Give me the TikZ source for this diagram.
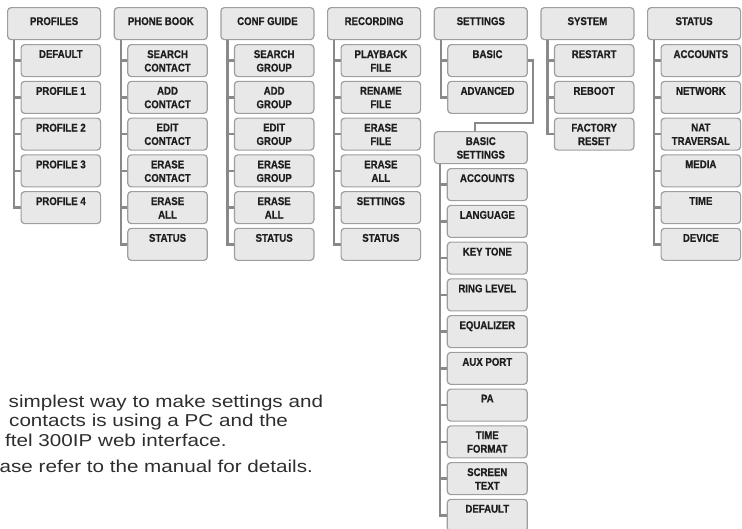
\documentclass[tikz,border=0pt]{standalone}
\usepackage{fontspec}
\setmainfont{Liberation Sans}
\newfontfamily\lblfont{Liberation Sans Bold}[FakeStretch=0.86,FakeBold=0.7]
\newfontfamily\bodyfont{Liberation Sans}[FakeStretch=1.2]
\usetikzlibrary{backgrounds}
\definecolor{connc}{HTML}{898989}
\definecolor{boxline}{HTML}{9E9E9E}
\definecolor{boxfill}{HTML}{E8E8E8}
\definecolor{lblc}{HTML}{1E1E1E}
\definecolor{bodyc}{HTML}{2E2E2E}
\newcommand\mbx[6]{%
  \node[boxst, minimum width=#4pt] (#1) at (#2,#3) {};
  \node[lblst] (#1l) at ([yshift=-#6pt]#1.north) {#5};}
\begin{document}
\begin{tikzpicture}[x=1pt,y=-1pt,
  boxst/.style={draw=boxline, fill=boxfill, line width=1.2pt, rounded corners=3.5pt,
    inner sep=0pt, minimum height=32pt, anchor=north west},
  lblst/.style={font={\lblfont\fontsize{11.2}{13.5}\selectfont}, text=lblc,
    align=center, inner sep=0pt, anchor=north},
  conn/.style={draw=connc, line width=2.4pt},
  bodyst/.style={font={\bodyfont\fontsize{17.2}{20}\selectfont}, text=bodyc,
    inner sep=0pt, anchor=base west}]
\useasboundingbox (0,0) rectangle (742,528);
\clip (0,0) rectangle (742,528);

% ---- PROFILES
\mbx{P}{7}{7}{93}{PROFILES}{10}
\mbx{P1}{20.5}{44}{79.5}{DEFAULT}{6}
\mbx{P2}{20.5}{80.75}{79.5}{PROFILE 1}{6}
\mbx{P3}{20.5}{117.5}{79.5}{PROFILE 2}{6}
\mbx{P4}{20.5}{154.25}{79.5}{PROFILE 3}{6}
\mbx{P5}{20.5}{191}{79.5}{PROFILE 4}{6}
% ---- PHONE BOOK
\mbx{B}{113.7}{7}{93}{PHONE BOOK}{10}
\mbx{B1}{127.2}{44}{79.5}{SEARCH\\CONTACT}{6}
\mbx{B2}{127.2}{80.75}{79.5}{ADD\\CONTACT}{6}
\mbx{B3}{127.2}{117.5}{79.5}{EDIT\\CONTACT}{6}
\mbx{B4}{127.2}{154.25}{79.5}{ERASE\\CONTACT}{6}
\mbx{B5}{127.2}{191}{79.5}{ERASE\\ALL}{6}
\mbx{B6}{127.2}{227.75}{79.5}{STATUS}{6}
% ---- CONF GUIDE
\mbx{C}{220.3}{7}{93}{CONF GUIDE}{10}
\mbx{C1}{233.8}{44}{79.5}{SEARCH\\GROUP}{6}
\mbx{C2}{233.8}{80.75}{79.5}{ADD\\GROUP}{6}
\mbx{C3}{233.8}{117.5}{79.5}{EDIT\\GROUP}{6}
\mbx{C4}{233.8}{154.25}{79.5}{ERASE\\GROUP}{6}
\mbx{C5}{233.8}{191}{79.5}{ERASE\\ALL}{6}
\mbx{C6}{233.8}{227.75}{79.5}{STATUS}{6}
% ---- RECORDING
\mbx{R}{327}{7}{93}{RECORDING}{10}
\mbx{R1}{340.5}{44}{79.5}{PLAYBACK\\FILE}{6}
\mbx{R2}{340.5}{80.75}{79.5}{RENAME\\FILE}{6}
\mbx{R3}{340.5}{117.5}{79.5}{ERASE\\FILE}{6}
\mbx{R4}{340.5}{154.25}{79.5}{ERASE\\ALL}{6}
\mbx{R5}{340.5}{191}{79.5}{SETTINGS}{6}
\mbx{R6}{340.5}{227.75}{79.5}{STATUS}{6}
% ---- SETTINGS
\mbx{S}{433.7}{7}{93}{SETTINGS}{10}
\mbx{S1}{447.2}{44}{79.5}{BASIC}{6}
\mbx{S2}{447.2}{80.75}{79.5}{ADVANCED}{6}
% ---- BASIC SETTINGS
\mbx{BS}{433.7}{131}{93}{BASIC\\SETTINGS}{6}
\mbx{BS1}{446.7}{168}{80}{ACCOUNTS}{6}
\mbx{BS2}{446.7}{204.75}{80}{LANGUAGE}{6}
\mbx{BS3}{446.7}{241.5}{80}{KEY TONE}{6}
\mbx{BS4}{446.7}{278.25}{80}{RING LEVEL}{6}
\mbx{BS5}{446.7}{315}{80}{EQUALIZER}{6}
\mbx{BS6}{446.7}{351.75}{80}{AUX PORT}{6}
\mbx{BS7}{446.7}{388.5}{80}{PA}{6}
\mbx{BS8}{446.7}{425.25}{80}{TIME\\FORMAT}{6}
\mbx{BS9}{446.7}{462}{80}{SCREEN\\TEXT}{6}
\mbx{BS10}{446.7}{498.75}{80}{DEFAULT}{6}
% ---- SYSTEM
\mbx{Y}{540.3}{7}{93}{SYSTEM}{10}
\mbx{Y1}{553.8}{44}{79.5}{RESTART}{6}
\mbx{Y2}{553.8}{80.75}{79.5}{REBOOT}{6}
\mbx{Y3}{553.8}{117.5}{79.5}{FACTORY\\RESET}{6}
% ---- STATUS
\mbx{T}{647}{7}{93}{STATUS}{10}
\mbx{T1}{660.5}{44}{79.5}{ACCOUNTS}{6}
\mbx{T2}{660.5}{80.75}{79.5}{NETWORK}{6}
\mbx{T3}{660.5}{117.5}{79.5}{NAT\\TRAVERSAL}{6}
\mbx{T4}{660.5}{154.25}{79.5}{MEDIA}{6}
\mbx{T5}{660.5}{191}{79.5}{TIME}{6}
\mbx{T6}{660.5}{227.75}{79.5}{DEVICE}{6}

% ---- connectors
\begin{scope}[on background layer]
\draw[conn] ([xshift=7pt]P.south west) |- (P5.west);
\foreach \k in {1,...,4} \draw[conn] (P\k.west) -- ++(-6.5,0);
\draw[conn] ([xshift=7pt]B.south west) |- (B6.west);
\foreach \k in {1,...,5} \draw[conn] (B\k.west) -- ++(-6.5,0);
\draw[conn] ([xshift=7pt]C.south west) |- (C6.west);
\foreach \k in {1,...,5} \draw[conn] (C\k.west) -- ++(-6.5,0);
\draw[conn] ([xshift=7pt]R.south west) |- (R6.west);
\foreach \k in {1,...,5} \draw[conn] (R\k.west) -- ++(-6.5,0);
\draw[conn] ([xshift=7pt]S.south west) |- (S2.west);
\draw[conn] (S1.west) -- ++(-6.5,0);
\draw[conn] (S1.east) -- ++(5,0) |- ([xshift=41.5pt,yshift=8pt]BS.north west) -- ([xshift=41.5pt]BS.north west);
\draw[conn] ([xshift=6.5pt]BS.south west) |- (BS10.west);
\foreach \k in {1,...,9} \draw[conn] (BS\k.west) -- ++(-6.5,0);
\draw[conn] ([xshift=7pt]Y.south west) |- (Y3.west);
\foreach \k in {1,2} \draw[conn] (Y\k.west) -- ++(-6.5,0);
\draw[conn] ([xshift=7pt]T.south west) |- (T6.west);
\foreach \k in {1,...,5} \draw[conn] (T\k.west) -- ++(-6.5,0);
\end{scope}

% ---- body text
\node[bodyst] (t1) at (8.5,407) {simplest way to make settings and};
\node[bodyst] (t2) at (9,426.5) {contacts is using a PC and the};
\node[bodyst] (t3) at (5,446) {ftel 300IP web interface.};
\node[bodyst] (t4) at (-0.5,472) {ase refer to the manual for details.};
\end{tikzpicture}
\end{document}
